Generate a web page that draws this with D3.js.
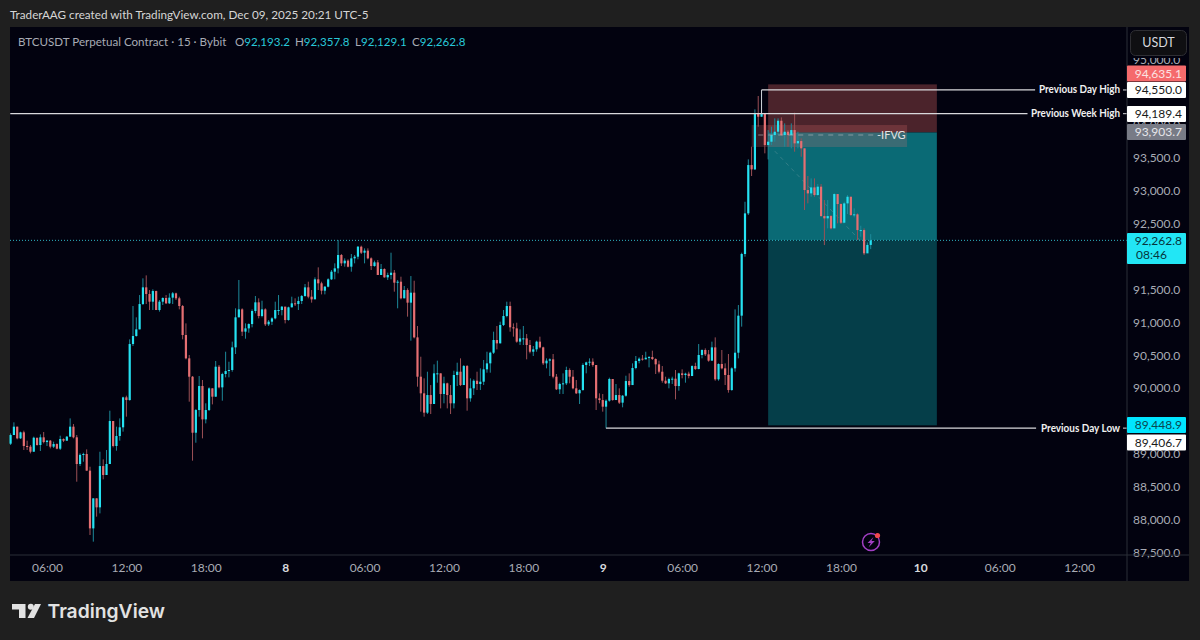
<!DOCTYPE html>
<html>
<head>
<meta charset="utf-8">
<script src="https://cdn.jsdelivr.net/npm/d3@7"></script>
<style>
  html, body { margin: 0; padding: 0; background: #1f1f1f; }
  svg { display: block; }
  text { font-family: Lato, sans-serif; }
</style>
</head>
<body>
<svg id="chart" width="1200" height="640"></svg>
<script>
// 15 min candles, every open is the close of the bar before
var firstOpen = 89170;
var closes = [
  89302,89429,89251,89343,89135,89125,89048,89261,89150,89267,89195,89216,89125,89165,89094,89241,89216,89277,89429,89267,
  88861,89000,89013,88760,87882,88339,88202,88830,88694,88861,89515,89135,89287,89419,89875,89834,90686,90808,90909,91294,
  91548,91447,91330,91492,91203,91330,91386,91305,91391,91457,91381,91264,90823,90468,90189,89337,89682,90047,89540,89682,
  90012,89885,90341,90027,90230,90275,90291,90635,91092,91213,90874,90924,90990,91188,91320,91112,91213,90985,91026,91076,
  91203,91203,91254,91051,91244,91305,91294,91340,91416,91548,91406,91365,91670,91609,91497,91558,91670,91786,91837,92040,
  91913,91954,91862,91989,92014,92166,92075,92106,91989,91872,91928,91736,91827,91700,91736,91771,91619,91634,91381,91507,
  91315,91467,90787,90189,89936,89642,89910,89774,90240,90240,89926,90088,89910,89784,90215,90265,90062,90351,89860,90012,
  90128,90078,90113,90301,90392,90554,90747,90696,90975,91112,91264,90940,90924,90722,90772,90772,90671,90569,90605,90722,
  90635,90392,90433,90453,90189,89997,90078,90088,90291,90189,90012,89936,89986,90367,90407,90417,90367,89860,89834,89733,
  89824,90154,89834,89910,89794,89900,90123,90062,90321,90428,90463,90453,90478,90488,90458,90377,90265,90128,90088,90154,
  90159,90047,90240,90215,90235,90199,90351,90306,90519,90595,90529,90433,90635,90149,90382,90316,90215,89986,90316,90554,
  91117,92055,92673,93408,93342,94194,94143,94194,93712,93763,93864,93915,94082,93864,93915,93864,93940,93738,93773,93662,
  93028,92977,93068,92952,93079,92632,92597,92632,92445,92967,92815,92531,92825,92926,92648,92658,92419,92419,92065,92193.2,
  92262.8
];
var highs = [
  89327,89495,89429,89353,89368,89216,89150,89277,89251,89312,89348,89226,89226,89201,89175,89292,89251,89287,89555,89469,
  89302,89023,89033,89084,88820,88339,88339,89048,88932,89074,89672,89515,89429,89555,89885,89900,90757,91264,91092,91431,
  91685,91730,91507,91518,91497,91355,91396,91431,91457,91477,91467,91406,91279,91000,90519,90199,89697,90199,90139,89784,
  90027,90012,90428,90367,90250,90569,90417,90722,91229,91660,91229,91000,91000,91213,91416,91381,91345,91229,91051,91092,
  91330,91431,91264,91254,91254,91406,91381,91406,91431,91599,91634,91507,91700,91852,91634,91568,91685,91812,91913,92268,
  92055,91989,91974,92055,92040,92177,92182,92141,92141,92004,91954,91964,91903,91837,91771,92075,91812,91660,91710,91568,
  91533,91720,91649,90960,90493,90164,90265,90062,90377,90433,90240,90189,90098,90062,90280,90402,90468,90367,90367,90164,
  90149,90265,90316,90443,90569,90569,90874,90960,91026,91203,91330,91330,91000,91010,90909,90960,90838,90747,90656,90737,
  90798,90645,90468,90468,90534,90230,90098,90240,90341,90316,90291,90139,89997,90392,90417,90468,90468,90367,89936,89926,
  89844,90174,90139,90078,90012,89910,90204,90240,90392,90504,90483,90519,90569,90504,90585,90468,90433,90351,90189,90174,
  90189,90291,90250,90301,90250,90265,90362,90402,90686,90605,90620,90595,90722,90787,90392,90595,90392,90534,90331,91213,
  91279,92075,92850,93494,93687,94255,94458,94549,94194,93940,93991,94118,94118,94133,94042,93940,94042,94204,93915,93814,
  93662,93241,93205,93205,93119,93119,92876,92876,92648,92977,92901,92825,92850,92952,92926,92749,92673,92485,92445,92230,
  92357.8
];
var lows = [
  89150,89302,89236,89241,89074,89074,89023,89048,89140,89059,89175,89135,89099,89104,89084,89074,89195,89216,89277,89251,
  88592,88830,88896,88760,87781,87680,88060,88110,88628,88694,88861,89114,89064,89216,89353,89581,89824,90656,90798,90909,
  91279,91294,91203,91203,91203,91178,91279,91294,91294,91294,91355,91213,90757,90453,89809,88912,89185,89581,89251,89479,
  89667,89768,89885,90012,89824,90179,90179,90265,90534,91092,90808,90767,90858,90940,91153,91076,91092,90960,90960,90975,
  91061,91127,91122,91000,91041,91244,91264,91203,91294,91406,91381,91315,91391,91507,91441,91441,91548,91660,91670,91761,
  91872,91862,91852,91786,91913,91974,92055,91913,91974,91812,91862,91736,91736,91695,91660,91670,91482,91229,91365,91381,
  91102,90737,90772,90037,89657,89581,89621,89621,89809,90098,89707,89784,89707,89621,89707,90047,90047,90062,89672,89809,
  89910,89986,89986,90062,90250,90250,90534,90605,90696,90960,91092,90874,90798,90706,90671,90671,90453,90544,90504,90569,
  90620,90367,90316,90199,90164,89986,89926,89926,90062,90088,89997,89926,89774,89976,90240,90351,90341,89682,89784,89657,
  89403,89809,89824,89834,89774,89723,89885,90037,90062,90301,90392,90433,90453,90331,90443,90230,90240,90098,90078,90012,
  90078,89844,89976,90164,90098,90164,90215,90291,90301,90468,90504,90417,90433,90128,90128,90301,90062,89946,89976,90265,
  90468,90950,92014,92648,93241,93332,93991,94143,93586,93494,93712,93763,93864,93849,93687,93687,93662,93611,93662,93535,
  92724,92825,92926,92926,92942,92622,92191,92445,92430,92470,92521,92511,92531,92663,92632,92612,92267,92318,92039,92075,
  92129.1
];
// 94,500 and 92,000 sit fully behind the price tags, so they are left out
var priceTicks = [95000,94000,93500,93000,92500,91500,91000,90500,90000,89500,89000,88500,88000,87500];
var timeBars = [11,35,59,83,107,131,155,179,203,227,251,275,299,323];
var timeLabels = ["06:00","12:00","18:00","8","06:00","12:00","18:00","9","06:00","12:00","18:00","10","06:00","12:00"];
var dayLabels = ["8","9","10"];

var stopPrice = 94635.1, entryPrice = 93903.7, lastPrice = 92262.8, targetPrice = 89448.9;
var dayHigh = 94550.0, weekHigh = 94189.4, dayLow = 89406.7;
var ohlc = [["O","92,193.2"],["H","92,357.8"],["L","92,129.1"],["C","92,262.8"]];

var svg = d3.select("#chart");
var panelL = 10, panelT = 27, axisX = 1127, axisY = 555, panelR = 1189, panelB = 581;

var x = d3.scaleLinear().domain([0,260]).range([10.6,870.7]);
var y = d3.scaleLinear().domain([87500,93500]).range([553.5,159]);

var cyan = "#25e2f2", red = "#e56f72", cyanWick = "#1d8a9a", redWick = "#9c5056";
var bg = "#02020f";

svg.append("rect").attr("x",panelL).attr("y",panelT).attr("width",panelR-panelL).attr("height",panelB-panelT).attr("fill",bg);

// short position tool
function zone(i0,i1,p0,p1,fill){
  svg.append("rect")
    .attr("x",x(i0)).attr("width",x(i1)-x(i0))
    .attr("y",y(p0)).attr("height",y(p1)-y(p0))
    .attr("fill",fill);
}
zone(229,280,stopPrice,entryPrice,"#4b232b");
zone(229,280,entryPrice,lastPrice,"#0a6a75");
zone(229,280,lastPrice,targetPrice,"#053e49");

// ifvg box
zone(224,271,94017,93682,"rgba(232,112,112,0.22)");

// current price
svg.append("line").attr("x1",panelL).attr("x2",axisX).attr("y1",y(lastPrice)).attr("y2",y(lastPrice))
  .attr("stroke","#2fb6c4").attr("stroke-width",1).attr("stroke-dasharray","1 2");

// faint trend line under the candles
svg.append("line").attr("x1",x(231)).attr("x2",x(257)).attr("y1",y(93620)).attr("y2",y(92250))
  .attr("stroke","#9fb4b8").attr("stroke-opacity",0.28).attr("stroke-dasharray","4 4");

// candles
var bars = closes.map(function(c,i){
  return { i:i, o: i==0 ? firstOpen : closes[i-1], c:c, h:highs[i], l:lows[i] };
});
var g = svg.append("g");
g.selectAll("line").data(bars).enter().append("line")
  .attr("x1",function(d){ return x(d.i); })
  .attr("x2",function(d){ return x(d.i); })
  .attr("y1",function(d){ return y(d.h); })
  .attr("y2",function(d){ return y(d.l); })
  .attr("stroke",function(d){ return d.c>=d.o ? cyanWick : redWick; })
  .attr("stroke-width",1);
g.selectAll("rect").data(bars).enter().append("rect")
  .attr("x",function(d){ return x(d.i)-1.1; })
  .attr("width",2.2)
  .attr("y",function(d){ return y(Math.max(d.o,d.c)); })
  .attr("height",function(d){ return Math.max(1,Math.abs(y(d.o)-y(d.c))); })
  .attr("fill",function(d){ return d.c>=d.o ? cyan : red; });

// key levels
function level(i0,i1,p,name,tx,tw){
  svg.append("line").attr("x1",x(i0)).attr("x2",x(i1)).attr("y1",y(p)).attr("y2",y(p))
    .attr("stroke","#d8d8dc").attr("stroke-width",1.2);
  svg.append("text").attr("x",tx).attr("y",y(p)+3.5).attr("font-size",10.5).attr("font-weight",700)
    .attr("textLength",tw).attr("lengthAdjust","spacingAndGlyphs")
    .attr("fill","#f0f0f0").text(name);
  svg.append("line").attr("x1",1123).attr("x2",1127).attr("y1",y(p)).attr("y2",y(p))
    .attr("stroke","#d8d8dc");
}
level(227,309.7,dayHigh,"Previous Day High",1039,81);
level(-0.1,307.4,weekHigh,"Previous Week High",1031,89);
level(180,310,dayLow,"Previous Day Low",1041,79);
svg.append("line").attr("x1",x(227)).attr("x2",x(227)).attr("y1",y(dayHigh)).attr("y2",y(weekHigh))
  .attr("stroke","#cfcfd4").attr("stroke-width",1);

// ifvg label
svg.append("line").attr("x1",x(226)).attr("x2",x(262)).attr("y1",y(93865)).attr("y2",y(93865))
  .attr("stroke","#b8b8bc").attr("stroke-opacity",0.6).attr("stroke-dasharray","5 5");
svg.append("text").attr("x",877).attr("y",139).attr("font-size",11).attr("fill","#e4e4e4").text("-IFVG");

// price axis
svg.append("rect").attr("x",axisX).attr("y",panelT).attr("width",panelR-axisX).attr("height",panelB-panelT).attr("fill",bg);
var yAxis = d3.axisRight(y).tickValues(priceTicks).tickSize(0).tickPadding(0).tickFormat(d3.format(",.1f"));
var yg = svg.append("g").attr("transform","translate("+(axisX+6)+",-1)").call(yAxis);
yg.select(".domain").remove();
yg.selectAll("text").attr("fill","#a8abb4").style("font-size","12px").style("font-family","Lato, sans-serif");
svg.append("rect").attr("x",axisX).attr("y",panelT).attr("width",panelR-axisX).attr("height",31).attr("fill",bg);

svg.append("line").attr("x1",axisX).attr("x2",axisX).attr("y1",panelT).attr("y2",panelB).attr("stroke","#2a2e39");
svg.append("line").attr("x1",panelL).attr("x2",panelR).attr("y1",axisY).attr("y2",axisY).attr("stroke","#2a2e39");

svg.append("rect").attr("x",1130.5).attr("y",30.5).attr("width",56).attr("height",25).attr("rx",5)
  .attr("fill","#0f0f12").attr("stroke","#2e2e33");
svg.append("text").attr("x",1158.5).attr("y",47).attr("text-anchor","middle").attr("font-size",12.5)
  .attr("fill","#d8d9de").text("USDT");

function priceTag(v,cy,fill,color){
  svg.append("rect").attr("x",axisX).attr("y",cy-8).attr("width",59).attr("height",16).attr("rx",1).attr("fill",fill);
  svg.append("text").attr("x",1182).attr("y",cy+4.3).attr("text-anchor","end").attr("font-size",12)
    .attr("fill",color).text(d3.format(",.1f")(v));
}
priceTag(stopPrice,73.5,"#f56a6c","#fbe3e3");
priceTag(dayHigh,90,"#ffffff","#1a1a1a");
priceTag(weekHigh,114,"#ffffff","#1a1a1a");
priceTag(entryPrice,132,"#787b86","#e6e6ea");
priceTag(targetPrice,425,"#00e5ff","#0b4650");
priceTag(dayLow,442.5,"#ffffff","#1a1a1a");

// last price tag with the countdown
svg.append("rect").attr("x",axisX).attr("y",233).attr("width",59).attr("height",31).attr("rx",1).attr("fill","#22e6f5");
svg.append("text").attr("x",1182).attr("y",245).attr("text-anchor","end").attr("font-size",12).attr("fill","#07343c")
  .text(d3.format(",.1f")(lastPrice));
svg.append("text").attr("x",1136).attr("y",259).attr("font-size",12).attr("fill","#07343c").text("08:46");

// time axis
var xAxis = d3.axisBottom(x).tickValues(timeBars).tickSize(0).tickPadding(0)
  .tickFormat(function(d,i){ return timeLabels[i]; });
var xg = svg.append("g").attr("transform","translate(0,"+(axisY+8)+")").call(xAxis);
xg.select(".domain").remove();
xg.selectAll("text")
  .attr("fill",function(d,i){ return dayLabels.indexOf(timeLabels[i])>=0 ? "#d8d9de" : "#a8abb4"; })
  .style("font-size","12px")
  .style("font-weight",function(d,i){ return dayLabels.indexOf(timeLabels[i])>=0 ? 700 : 400; })
  .style("font-family","Lato, sans-serif");

// header
svg.append("text").attr("x",10).attr("y",19).attr("font-size",11.7).attr("fill","#d6d6d6")
  .text("TraderAAG created with TradingView.com, Dec 09, 2025 20:21 UTC-5");
svg.append("text").attr("x",18).attr("y",46).attr("font-size",11.6).attr("fill","#a8abb4")
  .text("BTCUSDT Perpetual Contract · 15 · Bybit");
var legendX = [235,295,355,412];
ohlc.forEach(function(d,i){
  var t = svg.append("text").attr("x",legendX[i]).attr("y",46).attr("font-size",11.6);
  t.append("tspan").attr("fill","#a8abb4").text(d[0]);
  t.append("tspan").attr("fill","#28c8d8").text(d[1]);
});

// lightning badge
svg.append("circle").attr("cx",871).attr("cy",542).attr("r",8.5).attr("fill","none").attr("stroke","#a23fc4").attr("stroke-width",1.5);
svg.append("path").attr("d","M873.5 537 L867.5 543 L870.8 543 L868.5 547.5 L874.8 541 L871.5 541 Z").attr("fill","#a23fc4");
svg.append("circle").attr("cx",877.5).attr("cy",535.5).attr("r",2.6).attr("fill","#f0484e");

// tradingview mark
var logo = svg.append("g").attr("fill","#e2e2e2");
logo.append("path").attr("d","M12 604 H25.5 V618 H19 V609.5 H12 Z");
logo.append("circle").attr("cx",30.8).attr("cy",606.8).attr("r",3);
logo.append("path").attr("d","M35 604 H41 L34 618 H27.5 Z");
svg.append("text").attr("x",47.5).attr("y",618).attr("font-size",19.3).attr("font-weight",600)
  .style("font-family","Inter, sans-serif").attr("fill","#e2e2e2").text("TradingView");
</script>
</body>
</html>
